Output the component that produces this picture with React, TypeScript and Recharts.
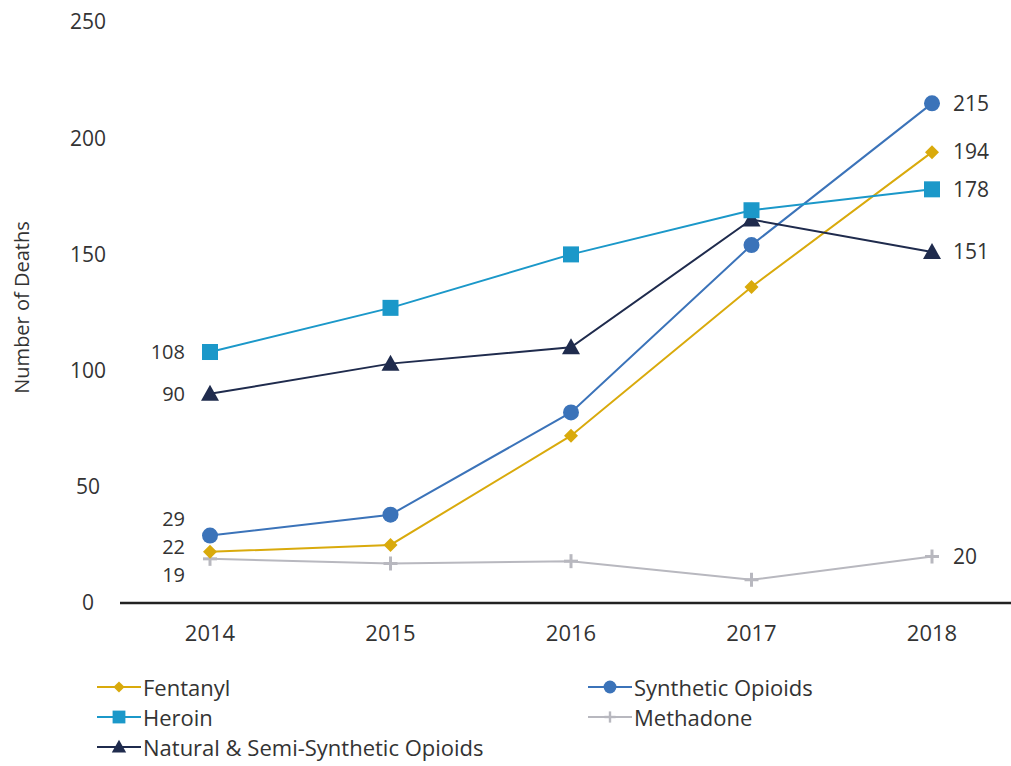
import React from "react"
import { LineChart, Line, XAxis, YAxis, LabelList } from "recharts"

const years = [2014, 2015, 2016, 2017, 2018]
const fentanyl = [22, 25, 72, 136, 194]
const synthetic = [29, 38, 82, 154, 215]
const heroin = [108, 127, 150, 169, 178]
const natural = [90, 103, 110, 165, 151]
const methadone = [19, 17, 18, 10, 20]
const yTicks = [0, 50, 100, 150, 200, 250]

const data = years.map((year, i) => ({
  year,
  fentanyl: fentanyl[i],
  synthetic: synthetic[i],
  heroin: heroin[i],
  natural: natural[i],
  methadone: methadone[i],
}))

const FONT = "'Open Sans', 'Noto Sans', sans-serif"
const TEXT = "#333"

type Shape = "diamond" | "circle" | "square" | "triangle" | "plus"

const series: { key: string; name: string; color: string; shape: Shape; firstDy: number }[] = [
  { key: "heroin", name: "Heroin", color: "#1b98c9", shape: "square", firstDy: 0 },
  { key: "natural", name: "Natural & Semi-Synthetic Opioids", color: "#1f2b4d", shape: "triangle", firstDy: 0 },
  { key: "synthetic", name: "Synthetic Opioids", color: "#3b73b9", shape: "circle", firstDy: -17 },
  { key: "fentanyl", name: "Fentanyl", color: "#d9aa0c", shape: "diamond", firstDy: -5 },
  { key: "methadone", name: "Methadone", color: "#b8b8bf", shape: "plus", firstDy: 16 },
]

function Marker({ cx, cy, shape, color, size = 1 }: any) {
  if (cx == null || cy == null) return null
  const s = size
  switch (shape) {
    case "circle":
      return <circle cx={cx} cy={cy} r={8 * s} fill={color} />
    case "square":
      return <rect x={cx - 8 * s} y={cy - 8 * s} width={16 * s} height={16 * s} fill={color} />
    case "triangle":
      return <polygon points={`${cx},${cy - 9 * s} ${cx + 9 * s},${cy + 7 * s} ${cx - 9 * s},${cy + 7 * s}`} fill={color} />
    case "diamond":
      return <polygon points={`${cx},${cy - 7 * s} ${cx + 7 * s},${cy} ${cx},${cy + 7 * s} ${cx - 7 * s},${cy}`} fill={color} />
    case "plus":
      return (
        <g stroke={color} strokeWidth={3 * s}>
          <line x1={cx - 7 * s} y1={cy} x2={cx + 7 * s} y2={cy} />
          <line x1={cx} y1={cy - 7 * s} x2={cx} y2={cy + 7 * s} />
        </g>
      )
  }
  return null
}

const makeLabel = (firstDy: number) => (props: any) => {
  const { x, y, value, index } = props
  if (index === 0) {
    return (
      <text x={x - 25} y={y + firstDy} dy="0.35em" textAnchor="end" fontSize={20} fontFamily={FONT} fill={TEXT}>
        {value}
      </text>
    )
  }
  if (index === years.length - 1) {
    return (
      <text x={x + 21} y={y} dy="0.35em" textAnchor="start" fontSize={21} fontFamily={FONT} fill={TEXT}>
        {value}
      </text>
    )
  }
  return null
}

const YTick = ({ x, y, payload }: any) => (
  <text x={x - 32} y={y} dy="0.35em" textAnchor="middle" fontSize={21} fontFamily={FONT} fill={TEXT}>
    {payload.value}
  </text>
)

const legendOrder = [
  ["fentanyl", "synthetic"],
  ["heroin", "methadone"],
  ["natural"],
]

function LegendBox() {
  return (
    <div style={{ position: "absolute", left: 97, top: 672, fontFamily: FONT, fontSize: 22, color: TEXT }}>
      {legendOrder.map((row, r) => (
        <div key={r} style={{ display: "flex", height: 30, alignItems: "center" }}>
          {row.map((k) => {
            const s = series.find((d) => d.key === k)!
            return (
              <div key={k} style={{ display: "flex", alignItems: "center", width: 491 }}>
                <svg width={44} height={20} style={{ marginRight: 2 }}>
                  <line x1={0} y1={10} x2={44} y2={10} stroke={s.color} strokeWidth={2} />
                  <Marker cx={22} cy={10} shape={s.shape} color={s.color} size={0.8} />
                </svg>
                <span style={{ whiteSpace: "nowrap" }}>{s.name}</span>
              </div>
            )
          })}
        </div>
      ))}
    </div>
  )
}

export default function App() {
  return (
    <div style={{ position: "absolute", left: 0, top: 0, width: 1011, height: 766, background: "#fff" }}>
      <LineChart width={1011} height={766} data={data} margin={{ top: 22, right: 0, bottom: 123, left: 0 }}>
        <XAxis
          dataKey="year"
          type="number"
          domain={[2014, 2018]}
          ticks={years}
          padding={{ left: 90, right: 79 }}
          height={40}
          tickLine={false}
          axisLine={{ stroke: "#222", strokeWidth: 2.5 }}
          tick={{ fontSize: 22, fontFamily: FONT, fill: TEXT }}
          tickMargin={16}
        />
        <YAxis
          domain={[0, 250]}
          ticks={yTicks}
          width={120}
          axisLine={false}
          tickLine={false}
          tickSize={0}
          tickMargin={0}
          tick={<YTick />}
          label={{
            content: ({ viewBox }: any) => (
              <text
                transform={`translate(${viewBox.x + 22}, ${viewBox.y + viewBox.height / 2 - 5}) rotate(-90)`}
                textAnchor="middle"
                dy="0.35em"
                fontSize={20}
                fontFamily={FONT}
                fill={TEXT}
              >
                Number of Deaths
              </text>
            ),
          }}
        />
        {[...series].reverse().map((s) => (
          <Line
            key={s.key}
            dataKey={s.key}
            name={s.name}
            stroke={s.color}
            strokeWidth={2}
            isAnimationActive={false}
            dot={(p: any) => <Marker key={`${s.key}-${p.index}`} cx={p.cx} cy={p.cy} shape={s.shape} color={s.color} />}
            activeDot={false}
          >
            <LabelList dataKey={s.key} content={makeLabel(s.firstDy)} />
          </Line>
        ))}
      </LineChart>
      <LegendBox />
    </div>
  )
}
